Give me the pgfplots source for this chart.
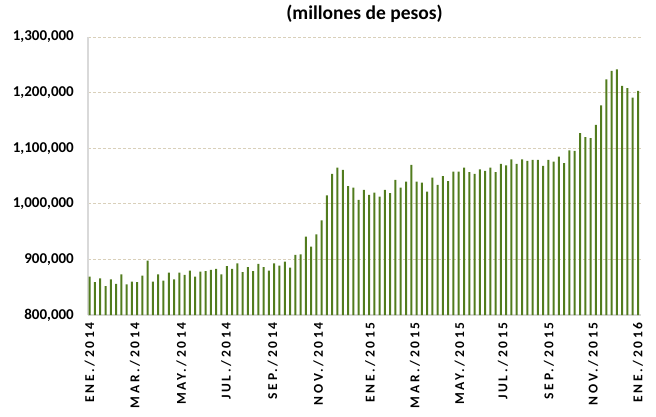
\documentclass[border=0pt]{standalone}
\usepackage{fontspec}
\setmainfont{Carlito}
\newfontfamily\spaced[LetterSpace=20]{Carlito}
\usepackage{pgfplots}
\pgfplotsset{compat=1.18}
\definecolor{barcol}{RGB}{82,124,30}
\definecolor{gridcol}{RGB}{217,208,186}
\definecolor{axcol}{RGB}{217,217,217}

% weekly values, index 0 = first week of ENE./2014
\pgfplotstableread{
wk val
0 869000
1 859000
2 866000
3 852000
4 864000
5 856000
6 873000
7 855000
8 860000
9 859000
10 871000
11 898000
12 860000
13 873000
14 862000
15 876000
16 864000
17 876000
18 872000
19 880000
20 869000
21 878000
22 879000
23 881000
24 883000
25 873000
26 888000
27 883000
28 893000
29 877000
30 886000
31 879000
32 892000
33 886000
34 880000
35 893000
36 889000
37 896000
38 885000
39 908000
40 909000
41 941000
42 923000
43 945000
44 970000
45 1015000
46 1054000
47 1065000
48 1061000
49 1032000
50 1029000
51 1007000
52 1025000
53 1016000
54 1020000
55 1013000
56 1025000
57 1019000
58 1043000
59 1029000
60 1040000
61 1070000
62 1040000
63 1038000
64 1022000
65 1047000
66 1034000
67 1050000
68 1041000
69 1058000
70 1058000
71 1065000
72 1057000
73 1054000
74 1062000
75 1059000
76 1065000
77 1057000
78 1072000
79 1069000
80 1080000
81 1072000
82 1080000
83 1077000
84 1079000
85 1079000
86 1068000
87 1079000
88 1076000
89 1085000
90 1073000
91 1096000
92 1095000
93 1127000
94 1120000
95 1118000
96 1142000
97 1177000
98 1224000
99 1239000
100 1242000
101 1212000
102 1208000
103 1191000
104 1203000
}\weekly

\begin{document}
\begin{tikzpicture}
\path[use as bounding box] (-88pt,-101pt) rectangle (568pt,315pt);
\begin{axis}[
  at={(0pt,0pt)}, anchor=south west,
  scale only axis, width=553pt, height=278pt,
  xmin=-0.32, xmax=104.57,
  ymin=800000, ymax=1300000,
  ytick={800000,900000,...,1300000},
  scaled y ticks=false,
  /pgf/number format/fixed,
  /pgf/number format/precision=0,
  /pgf/number format/1000 sep={,},
  /pgf/number format/assume math mode=true,
  xtick={0,8.6,17.4,25.9,34.7,43.4,53.2,61.7,70.2,78.4,87.1,95.5,104},
  xticklabels={ENE./2014,MAR./2014,MAY./2014,JUL./2014,SEP./2014,NOV./2014,
    ENE./2015,MAR./2015,MAY./2015,JUL./2015,SEP./2015,NOV./2015,ENE./2016},
  x tick label style={font=\spaced\bfseries\fontsize{13.5}{15}\selectfont,
    yshift=-7pt, rotate=90, anchor=east, inner sep=0pt},
  y tick label style={font=\bfseries\fontsize{15}{17}\selectfont,
    anchor=east, inner sep=0pt, xshift=-14pt},
  major tick length=0pt,
  axis x line*=bottom, axis y line*=left,
  axis line style={axcol, line width=1.5pt, -},
  ymajorgrids,
  major grid style={gridcol, line width=1pt, dash pattern=on 3pt off 2pt},
  title={(millones de pesos)},
  title style={font=\bfseries\fontsize{19.5}{21}\selectfont,
    at={(0.5,1)}, anchor=center, yshift=17pt, inner sep=0pt},
  clip=true,
]
\addplot[ybar, bar width=2pt, fill=barcol, draw=none] table[x=wk, y=val] {\weekly};
\end{axis}
\end{tikzpicture}
\end{document}
